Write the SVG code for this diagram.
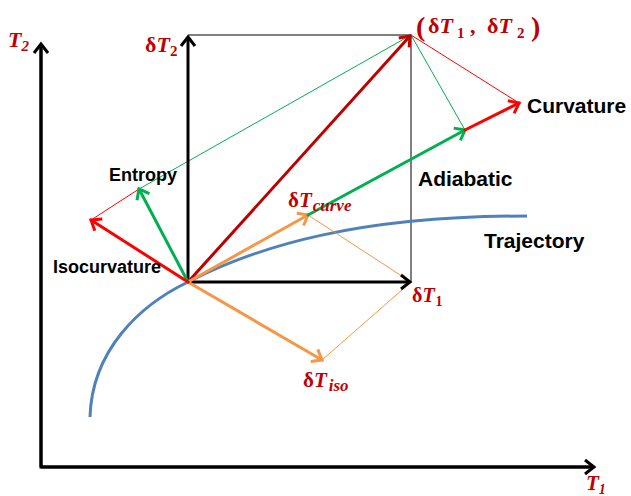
<svg xmlns="http://www.w3.org/2000/svg" width="631" height="496" viewBox="0 0 631 496">
<style>
.lbl{font-family:"Liberation Sans",Arial,sans-serif;font-weight:bold;fill:#000}
.m{font-family:"Liberation Serif","DejaVu Serif",serif;fill:#c00000}
.it{font-style:italic}
.thin{fill:none;stroke-width:1}
.vec{fill:none;stroke-width:3;stroke-linecap:round}
</style>
<defs>
<marker id="ak" markerUnits="userSpaceOnUse" markerWidth="20" markerHeight="20" refX="12" refY="10" orient="auto"><polyline points="3,3 12,10 3,17" fill="none" stroke="#000" stroke-width="3"/></marker>
<marker id="ar" markerUnits="userSpaceOnUse" markerWidth="20" markerHeight="20" refX="12" refY="10" orient="auto"><polyline points="3,3 12,10 3,17" fill="none" stroke="#ff0000" stroke-width="3"/></marker>
<marker id="ad" markerUnits="userSpaceOnUse" markerWidth="20" markerHeight="20" refX="12" refY="10" orient="auto"><polyline points="3,3 12,10 3,17" fill="none" stroke="#c00000" stroke-width="3"/></marker>
<marker id="ag" markerUnits="userSpaceOnUse" markerWidth="20" markerHeight="20" refX="12" refY="10" orient="auto"><polyline points="3,3 12,10 3,17" fill="none" stroke="#00b050" stroke-width="3"/></marker>
<marker id="ao" markerUnits="userSpaceOnUse" markerWidth="20" markerHeight="20" refX="12" refY="10" orient="auto"><polyline points="3,3 12,10 3,17" fill="none" stroke="#f79646" stroke-width="3"/></marker>
</defs>
<rect width="631" height="496" fill="#fff"/>
<g id="connectors">
<polyline points="41,44 41,467 594,467" fill="none" stroke="#000" stroke-width="3"/>
<line x1="41" y1="467" x2="41" y2="44" stroke="#000" stroke-width="3" marker-end="url(#ak)"/>
<line x1="41" y1="467" x2="594" y2="467" stroke="#000" stroke-width="3" marker-end="url(#ak)"/>
<polyline class="thin" points="188,35 411,35 411,282" stroke="#000"/>
<path d="M90,417 C92,350 140,305 188,282 C260,245 360,216 527,216" fill="none" stroke="#4f81bd" stroke-width="3"/>
<polyline class="thin" points="91,220 139,189" stroke="#ff0000"/>
<polyline class="thin" points="139,189 411,35" stroke="#00b050"/>
<polyline class="thin" points="411,35 465,130" stroke="#00b050"/>
<polyline class="thin" points="411,35 519,103" stroke="#ff0000"/>
<polyline class="thin" points="308,215 411,282 322,360" stroke="#f79646"/>
<line x1="188" y1="282" x2="188" y2="37" stroke="#000" stroke-width="3" marker-end="url(#ak)"/>
<line x1="188" y1="282" x2="410" y2="282" stroke="#000" stroke-width="3" marker-end="url(#ak)"/>
<line class="vec" x1="188" y1="282" x2="410" y2="36" stroke="#c00000" marker-end="url(#ad)"/>
<line class="vec" x1="188" y1="282" x2="308" y2="215" stroke="#f79646" marker-end="url(#ao)"/>
<line class="vec" x1="188" y1="282" x2="322" y2="360" stroke="#f79646" marker-end="url(#ao)"/>
<line class="vec" x1="308" y1="215" x2="465" y2="130" stroke="#00b050" marker-end="url(#ag)"/>
<line class="vec" x1="465" y1="130" x2="519" y2="103" stroke="#ff0000" marker-end="url(#ar)"/>
<line class="vec" x1="188" y1="282" x2="139" y2="189" stroke="#00b050" marker-end="url(#ag)"/>
<line class="vec" x1="188" y1="282" x2="91" y2="220" stroke="#ff0000" marker-end="url(#ar)"/>
</g>
<g id="labels">
<text class="m it" x="8" y="47" font-size="22" font-weight="bold">T<tspan font-size="15" dy="4">2</tspan></text>
<text class="m" x="145" y="52" font-size="22" font-weight="bold">δ<tspan class="it">T</tspan><tspan font-size="15" dy="4">2</tspan></text>
<text class="m" font-size="22" font-weight="bold"><tspan x="416" y="36" font-size="28">(</tspan><tspan x="428" y="33">δ</tspan><tspan class="it">T</tspan><tspan x="457" y="38" font-size="15">1</tspan><tspan x="470" y="33">,</tspan><tspan x="487" y="33">δ</tspan><tspan class="it">T</tspan><tspan x="517" y="38" font-size="15">2</tspan><tspan x="531" y="36" font-size="28">)</tspan></text>
<text class="m" x="288" y="207" font-size="21" font-weight="bold">δ<tspan class="it">T</tspan><tspan class="it" font-size="17" dy="4" dx="1">curve</tspan></text>
<text class="m" x="412" y="302" font-size="20" font-weight="bold">δ<tspan class="it">T</tspan><tspan font-size="14" dy="4" dx="1">1</tspan></text>
<text class="m" x="303" y="387" font-size="21" font-weight="bold">δ<tspan class="it">T</tspan><tspan class="it" font-size="17" dy="4" dx="2">iso</tspan></text>
<text class="m it" x="586" y="490" font-size="21" font-weight="bold">T<tspan font-size="14" dy="4">1</tspan></text>
<text class="lbl" x="527" y="113" font-size="21">Curvature</text>
<text class="lbl" x="418" y="186" font-size="21">Adiabatic</text>
<text class="lbl" x="484" y="248" font-size="21">Trajectory</text>
<text class="lbl" x="109" y="181" font-size="18">Entropy</text>
<text class="lbl" x="53" y="273" font-size="18">Isocurvature</text>
</g>
</svg>
